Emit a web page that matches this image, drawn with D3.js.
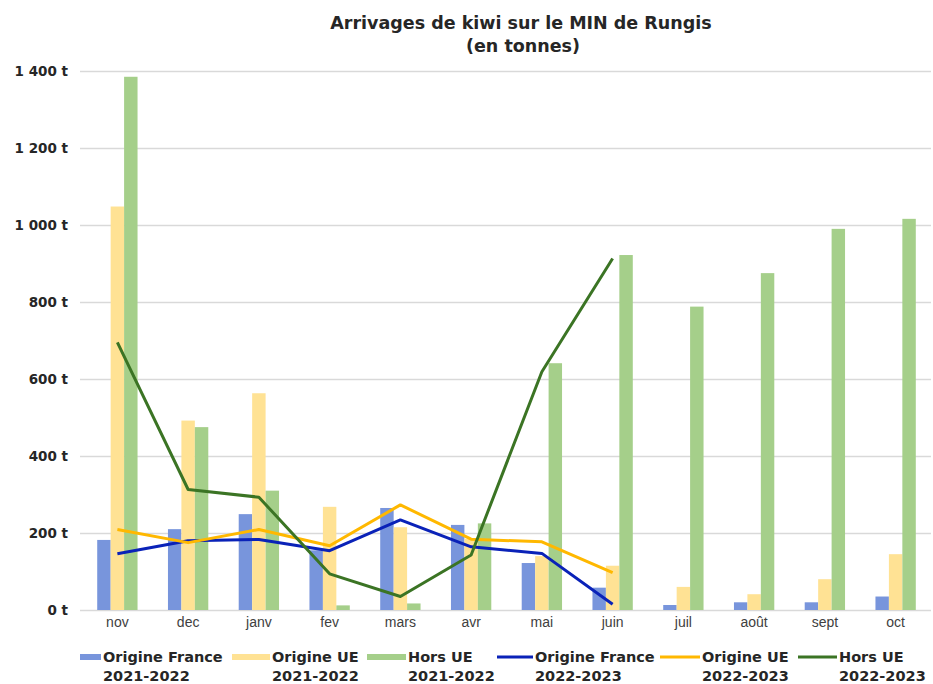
<!DOCTYPE html>
<html>
<head>
<meta charset="utf-8">
<script src="https://cdn.jsdelivr.net/npm/d3@7"></script>
<style>
  body { margin: 0; background: #fff; }
  text { font-family: "Liberation Sans", Arial, sans-serif; }
  .bold { font-family: "DejaVu Sans", sans-serif; font-weight: bold; fill: #262626; }
</style>
</head>
<body>
<div id="container"></div>
<script>
// Months (Nov -> Oct)
const months = ["nov", "dec", "janv", "fev", "mars", "avr", "mai", "juin", "juil", "août", "sept", "oct"];

// 2021-2022 bars (tonnes)
const franceA = [182, 210, 249, 155, 265, 221, 122, 58, 13, 20, 20, 35];
const ueA = [1048, 492, 563, 268, 215, 185, 140, 115, 60, 41, 80, 145];
const horsA = [1385, 475, 310, 12, 17, 225, 641, 922, 788, 875, 990, 1016];

// 2022-2023 lines (tonnes), nov -> juin
const franceB = [146, 180, 183, 154, 234, 164, 147, 15];
const ueB = [209, 175, 209, 167, 273, 184, 177, 97];
const horsB = [695, 313, 293, 94, 35, 143, 619, 913];

const yTicks = [0, 200, 400, 600, 800, 1000, 1200, 1400];

const barSeries = [
    { name: "Origine France", year: "2021-2022", values: franceA, color: "#7895DC" },
    { name: "Origine UE", year: "2021-2022", values: ueA, color: "#FFE294" },
    { name: "Hors UE", year: "2021-2022", values: horsA, color: "#A5CF8A" }
];
const lineSeries = [
    { name: "Origine France", year: "2022-2023", values: franceB, color: "#0A22B8" },
    { name: "Origine UE", year: "2022-2023", values: ueB, color: "#FFB800" },
    { name: "Hors UE", year: "2022-2023", values: horsB, color: "#3B7424" }
];

const W = 933, H = 684;
const svg = d3.select("#container").append("svg")
    .attr("width", W)
    .attr("height", H);

// Scales
const x = d3.scaleBand()
    .domain(months)
    .range([82, 931])
    .paddingInner(0.43)
    .paddingOuter(0.215);

const x1 = d3.scaleBand()
    .domain(d3.range(barSeries.length))
    .range([0, x.bandwidth()]);

const y = d3.scaleLinear()
    .domain([0, 1400])
    .range([610, 71]);

// Title
svg.append("text")
    .attr("class", "bold")
    .attr("x", 521).attr("y", 29)
    .attr("text-anchor", "middle")
    .style("font-size", "17.5px")
    .text("Arrivages de kiwi sur le MIN de Rungis");
svg.append("text")
    .attr("class", "bold")
    .attr("x", 523).attr("y", 52)
    .attr("text-anchor", "middle")
    .style("font-size", "17.5px")
    .text("(en tonnes)");

// Gridlines
const yAxis = svg.append("g")
    .attr("transform", "translate(80,0)")
    .call(d3.axisLeft(y).tickValues(yTicks).tickSize(-851).tickPadding(12)
        .tickFormat(d => d3.format(",")(d).replace(",", " ") + " t"));
yAxis.select(".domain").remove();
yAxis.selectAll("line").attr("stroke", "#d9d9d9").attr("stroke-width", 1.5);
yAxis.selectAll("text")
    .attr("class", "bold")
    .style("font-size", "13.5px");

// X axis labels
const xAxis = svg.append("g")
    .attr("transform", "translate(0,610)")
    .call(d3.axisBottom(x).tickSize(0).tickPadding(7));
xAxis.select(".domain").remove();
xAxis.selectAll("text")
    .style("font-size", "14px").style("fill", "#404040");

// Bars
barSeries.forEach((s, i) => {
    svg.append("g").selectAll("rect")
        .data(s.values)
        .enter().append("rect")
        .attr("x", (d, j) => x(months[j]) + x1(i))
        .attr("y", d => y(d))
        .attr("width", x1.bandwidth())
        .attr("height", d => y(0) - y(d))
        .attr("fill", s.color);
});

// Lines
const line = d3.line()
    .x((d, j) => x(months[j]) + x.bandwidth() / 2)
    .y(d => y(d));

lineSeries.forEach(s => {
    svg.append("path")
        .datum(s.values)
        .attr("d", line)
        .attr("fill", "none")
        .attr("stroke", s.color)
        .attr("stroke-width", 3)
        .attr("stroke-linejoin", "round");
});

// Legend
const legendItems = barSeries.map(d => Object.assign({ type: "bar" }, d))
    .concat(lineSeries.map(d => Object.assign({ type: "line" }, d)));
const legendX = [80, 232, 367, 497, 660, 798];
const legendW = [21, 38, 39, 36, 40, 39];

const legend = svg.selectAll(".legend")
    .data(legendItems)
    .enter().append("g")
    .attr("class", "legend")
    .attr("transform", (d, i) => `translate(${legendX[i]},0)`);

legend.append("rect")
    .attr("x", 0)
    .attr("y", d => d.type === "bar" ? 654 : 655.5)
    .attr("width", (d, i) => legendW[i])
    .attr("height", d => d.type === "bar" ? 6 : 3)
    .attr("fill", d => d.color);

legend.append("text")
    .attr("class", "bold")
    .attr("x", (d, i) => legendW[i] + 2)
    .attr("y", 662)
    .style("font-size", "14.5px")
    .text(d => d.name);

legend.append("text")
    .attr("class", "bold")
    .attr("x", (d, i) => legendW[i] + 2)
    .attr("y", 681)
    .style("font-size", "14.5px")
    .text(d => d.year);
</script>
</body>
</html>
